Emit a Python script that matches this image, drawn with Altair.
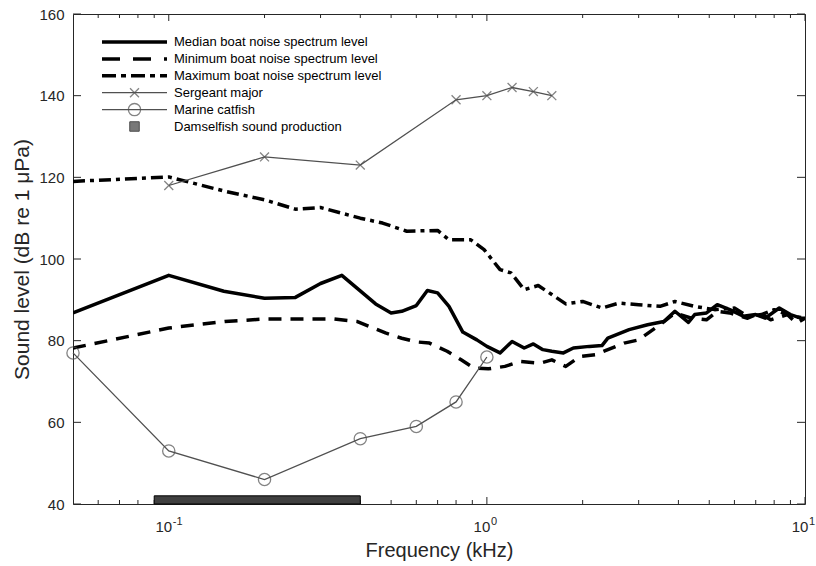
import altair as alt
import pandas as pd

# ---------------- data ----------------
median_khz = [0.05, 0.1, 0.149, 0.2, 0.25, 0.3, 0.35, 0.447, 0.5, 0.54, 0.6, 0.65, 0.7,
              0.76, 0.84, 0.93, 1.0, 1.1, 1.2, 1.31, 1.4, 1.5, 1.6, 1.74, 1.87, 2.1, 2.3,
              2.4, 2.8, 3.2, 3.6, 3.9, 4.3, 4.5, 4.9, 5.3, 5.8, 6.4, 7.0, 7.5, 8.3, 9.0,
              9.7, 10.0]
median_db = [86.8, 96.0, 92.1, 90.4, 90.6, 94.0, 96.0, 89.0, 86.8, 87.2, 88.6, 92.3, 91.7,
             88.4, 82.1, 80.2, 78.6, 77.0, 79.8, 78.2, 79.2, 77.8, 77.4, 77.0, 78.2, 78.6, 78.8,
             80.6, 82.7, 83.9, 84.7, 87.2, 84.5, 86.4, 86.8, 88.8, 87.6, 86.0, 86.4, 85.5, 88.0,
             86.4, 85.5, 85.5]

minimum_khz = [0.05, 0.1, 0.15, 0.2, 0.33, 0.39, 0.48, 0.54, 0.6, 0.66, 0.75, 0.83, 0.91,
               1.01, 1.14, 1.27, 1.47, 1.6, 1.77, 1.96, 2.2, 2.7, 3.0, 3.5, 3.9, 4.4, 4.9,
               5.3, 5.8, 6.6, 7.2, 7.8, 8.8, 9.4, 10.0]
minimum_db = [78.2, 83.1, 84.7, 85.3, 85.3, 84.7, 81.9, 80.6, 79.7, 79.4, 77.4, 75.3, 73.3,
              73.1, 73.7, 74.9, 74.5, 75.3, 73.7, 76.1, 76.6, 79.4, 80.2, 83.9, 86.8, 85.5, 85.1,
              87.2, 86.8, 85.5, 86.8, 85.1, 86.4, 84.3, 85.5]

maximum_khz = [0.05, 0.1, 0.15, 0.2, 0.25, 0.3, 0.4, 0.47, 0.56, 0.7, 0.76, 0.89, 0.98,
               1.1, 1.19, 1.31, 1.45, 1.6, 1.77, 2.0, 2.3, 2.6, 3.0, 3.5, 3.9, 4.5, 5.2,
               6.0, 6.6, 7.3, 8.0, 9.1, 10.0]
maximum_db = [119.0, 120.1, 116.6, 114.5, 112.2, 112.6, 110.0, 108.8, 106.8, 107.0, 104.7,
              104.7, 102.3, 97.4, 96.6, 92.5, 93.5, 91.3, 89.0, 89.6, 88.0, 89.2, 88.8, 88.4,
              89.6, 88.4, 87.6, 88.0, 86.0, 86.4, 87.6, 86.0, 85.5]

sergeant_khz = [0.1, 0.2, 0.4, 0.8, 1.0, 1.2, 1.4, 1.6]
sergeant_db = [118, 125, 123, 139, 140, 142, 141, 140]

catfish_khz = [0.05, 0.1, 0.2, 0.4, 0.6, 0.8, 1.0]
catfish_db = [77, 53, 46, 56, 59, 65, 76]

damselfish_khz = [0.09, 0.4]
damselfish_db = [40, 42]

legend_labels = [
    "Median boat noise spectrum level",
    "Minimum boat noise spectrum level",
    "Maximum boat noise spectrum level",
    "Sergeant major",
    "Marine catfish",
    "Damselfish sound production",
]

x_major_ticks = [0.1, 1.0, 10.0]
x_tick_exponents = ["-1", "0", "1"]
x_minor_ticks = [0.06, 0.07, 0.08, 0.09, 0.2, 0.3, 0.4, 0.5, 0.6, 0.7, 0.8, 0.9,
                 2, 3, 4, 5, 6, 7, 8, 9]
y_ticks = [40, 60, 80, 100, 120, 140, 160]

# ---------------- styling ----------------
W, H = 732, 490
FONT = "Liberation Sans"
AXIS_COLOR = "#262626"
GRAY = "#505050"
X_SHAPE = "M-1,-1L1,1M-1,1L1,-1"

xscale = alt.Scale(type="log", domain=[0.05, 10], nice=False)
yscale = alt.Scale(domain=[40, 160], nice=False, zero=False)

xaxis = alt.Axis(labels=False, ticks=False, domain=False, grid=False,
                 title="Frequency (kHz)", titleFontSize=20, titleFontWeight="normal",
                 titleColor=AXIS_COLOR, titlePadding=36, titleFont=FONT)
yaxis = alt.Axis(values=y_ticks, ticks=False, domain=False, grid=False,
                 labelFontSize=15, labelPadding=9, labelColor=AXIS_COLOR, labelFont=FONT,
                 title="Sound level (dB re 1 μPa)", titleFontSize=21,
                 titleFontWeight="normal", titleColor=AXIS_COLOR, titlePadding=6,
                 titleFont=FONT)


def X(field="f"):
    return alt.X(field, type="quantitative", scale=xscale, axis=xaxis)


def Y(field="db"):
    return alt.Y(field, type="quantitative", scale=yscale, axis=yaxis)


one_row = pd.DataFrame({"k": [0]})

# ---------------- tick marks (inward, on all four sides) ----------------
major_df = pd.DataFrame({"f": x_major_ticks})
minor_df = pd.DataFrame({"f": x_minor_ticks})
ytick_df = pd.DataFrame({"db": y_ticks})

tick_layers = []
for df, ln in [(major_df, 7), (minor_df, 4)]:
    tick_layers.append(alt.Chart(df).mark_rule(color=AXIS_COLOR, strokeWidth=1).encode(
        x=X(), y=alt.value(H), y2=alt.value(H - ln)))
    tick_layers.append(alt.Chart(df).mark_rule(color=AXIS_COLOR, strokeWidth=1).encode(
        x=X(), y=alt.value(0), y2=alt.value(ln)))
tick_layers.append(alt.Chart(ytick_df).mark_rule(color=AXIS_COLOR, strokeWidth=1).encode(
    y=Y(), x=alt.value(0), x2=alt.value(8)))
tick_layers.append(alt.Chart(ytick_df).mark_rule(color=AXIS_COLOR, strokeWidth=1).encode(
    y=Y(), x=alt.value(W), x2=alt.value(W - 8)))

# x tick labels as 10 with a raised exponent
xlab_df = pd.DataFrame({"f": x_major_ticks, "exp": x_tick_exponents})
base_labels = alt.Chart(xlab_df).mark_text(
    text="10", fontSize=15, font=FONT, color=AXIS_COLOR, align="center",
    baseline="alphabetic", dx=-5).encode(x=X(), y=alt.value(H + 28))
exp_labels = alt.Chart(xlab_df).mark_text(
    fontSize=11, font=FONT, color=AXIS_COLOR, align="left",
    baseline="alphabetic", dx=4).encode(x=X(), y=alt.value(H + 21), text="exp:N")

# ---------------- damselfish band ----------------
band = alt.Chart(pd.DataFrame({
    "f": [damselfish_khz[0]], "f2": [damselfish_khz[1]],
    "db": [damselfish_db[0]], "db2": [damselfish_db[1]],
})).mark_rect(fill="#404040", stroke="black", strokeWidth=1).encode(
    x=X(), x2="f2:Q", y=Y(), y2="db2:Q")

# ---------------- boat noise spectra ----------------
def spectrum(freqs, levels, dash):
    df = pd.DataFrame({"f": freqs, "db": levels})
    kw = dict(color="black", strokeWidth=3.5, clip=True, strokeJoin="round")
    if dash:
        kw["strokeDash"] = dash
    return alt.Chart(df).mark_line(**kw).encode(x=X(), y=Y())


median_line = spectrum(median_khz, median_db, None)
minimum_line = spectrum(minimum_khz, minimum_db, [13, 9])
maximum_line = spectrum(maximum_khz, maximum_db, [12, 5, 4, 5])

# ---------------- fish audiograms ----------------
sergeant_df = pd.DataFrame({"f": sergeant_khz, "db": sergeant_db})
catfish_df = pd.DataFrame({"f": catfish_khz, "db": catfish_db})

sergeant_line = alt.Chart(sergeant_df).mark_line(color=GRAY, strokeWidth=1.3).encode(x=X(), y=Y())
sergeant_pts = alt.Chart(sergeant_df).mark_point(
    shape=X_SHAPE, size=80, filled=False, color=GRAY, strokeWidth=1.3).encode(x=X(), y=Y())
catfish_line = alt.Chart(catfish_df).mark_line(color=GRAY, strokeWidth=1.3).encode(x=X(), y=Y())
catfish_pts = alt.Chart(catfish_df).mark_point(
    shape="circle", size=150, filled=False, color=GRAY, strokeWidth=1.3).encode(x=X(), y=Y())

# ---------------- legend ----------------
ROW0, ROW_STEP = 28, 16.9
SAMPLE_X0, SAMPLE_X1, TEXT_X = 29, 94, 101
SAMPLE_MID = (SAMPLE_X0 + SAMPLE_X1) / 2
sample_styles = [
    dict(color="black", strokeWidth=3.5),
    dict(color="black", strokeWidth=3.5, strokeDash=[18, 13]),
    dict(color="black", strokeWidth=3.5, strokeDash=[14, 5, 5, 5]),
    dict(color=GRAY, strokeWidth=1.3),
    dict(color=GRAY, strokeWidth=1.3),
    None,
]

legend_layers = []
for i, label in enumerate(legend_labels):
    yy = ROW0 + i * ROW_STEP
    style = sample_styles[i]
    if style is not None:
        legend_layers.append(alt.Chart(one_row).mark_rule(**style).encode(
            x=alt.value(SAMPLE_X0), x2=alt.value(SAMPLE_X1), y=alt.value(yy)))
    legend_layers.append(alt.Chart(one_row).mark_text(
        text=label, fontSize=13, font=FONT, color="black", align="left",
        baseline="middle").encode(x=alt.value(TEXT_X), y=alt.value(yy)))

legend_layers.append(alt.Chart(one_row).mark_point(
    shape=X_SHAPE, size=80, filled=False, color=GRAY, strokeWidth=1.3).encode(
    x=alt.value(SAMPLE_MID), y=alt.value(ROW0 + 3 * ROW_STEP)))
legend_layers.append(alt.Chart(one_row).mark_point(
    shape="circle", size=150, filled=False, color=GRAY, strokeWidth=1.3).encode(
    x=alt.value(SAMPLE_MID), y=alt.value(ROW0 + 4 * ROW_STEP)))
legend_layers.append(alt.Chart(one_row).mark_point(
    shape="square", size=90, filled=True, fill="#404040", stroke="black",
    strokeWidth=1).encode(x=alt.value(SAMPLE_MID), y=alt.value(ROW0 + 5 * ROW_STEP)))

chart = alt.layer(
    *tick_layers,
    band,
    minimum_line,
    maximum_line,
    median_line,
    sergeant_line,
    sergeant_pts,
    catfish_line,
    catfish_pts,
    base_labels,
    exp_labels,
    *legend_layers,
).properties(
    width=W,
    height=H,
    autosize=alt.AutoSizeParams(type="none"),
    padding={"left": 73, "top": 14, "right": 11, "bottom": 62},
    background="white",
).configure_view(
    stroke=AXIS_COLOR, strokeWidth=1
)

chart.save("out.html", embed_options={"renderer": "svg", "actions": False})
